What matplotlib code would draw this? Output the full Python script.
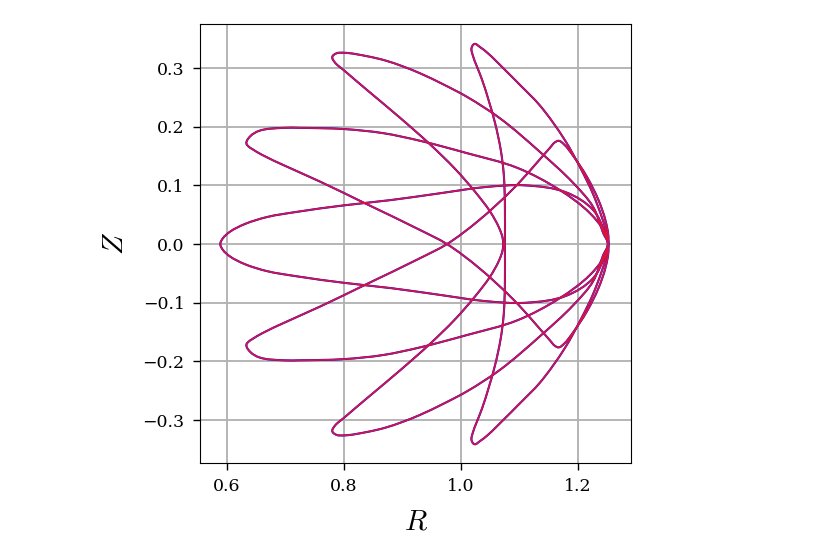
import numpy as np
import matplotlib
matplotlib.use("Agg")
import matplotlib.pyplot as plt
from matplotlib.path import Path
from matplotlib.patches import PathPatch

# ---- data: cross-sections (R, Z) ----
# up-down symmetric sections: upper half only (mirrored about Z=0)
A_R = [1.252, 1.246, 1.226, 1.180, 1.110, 1.040, 0.960, 0.880, 0.800, 0.720, 0.668, 0.630, 0.605, 0.593, 0.5885]
A_Z = [0.000, 0.020, 0.058, 0.088, 0.100, 0.097, 0.086, 0.075, 0.066, 0.055, 0.046, 0.034, 0.021, 0.010, 0.000]

C_R = [1.251, 1.243, 1.226, 1.192, 1.135, 1.067, 1.010, 0.970, 0.930, 0.900, 0.870, 0.840, 0.800, 0.787,
       0.780, 0.784, 0.800, 0.840, 0.896, 0.947, 0.990, 1.025, 1.050, 1.065, 1.071, 1.072]
C_Z = [0.000, 0.019, 0.063, 0.104, 0.157, 0.214, 0.251, 0.272, 0.291, 0.303, 0.313, 0.320, 0.326, 0.325,
       0.319, 0.310, 0.296, 0.262, 0.215, 0.170, 0.128, 0.088, 0.055, 0.028, 0.011, 0.000]

D_R = [1.252, 1.248, 1.240, 1.225, 1.205, 1.177, 1.135, 1.100, 1.075, 1.045, 1.032, 1.023, 1.018, 1.020, 1.027,
       1.036, 1.058, 1.068, 1.073, 1.075, 1.075]
D_Z = [0.000, 0.022, 0.048, 0.087, 0.128, 0.178, 0.236, 0.272, 0.297, 0.326, 0.336, 0.341, 0.334, 0.322, 0.303,
       0.280, 0.207, 0.160, 0.120, 0.070, 0.000]

# non-symmetric section (full loop); its mirror image is also drawn
P_R = [0.633, 0.640, 0.655, 0.696, 0.725, 0.800, 0.867, 0.930, 1.010, 1.096, 1.169, 1.220, 1.246, 1.252,
       1.247, 1.235, 1.215, 1.192, 1.176, 1.167, 1.160, 1.152, 1.090, 1.030, 0.976, 0.930, 0.839, 0.760,
       0.700, 0.660, 0.643, 0.636]
P_Z = [0.172, 0.184, 0.193, 0.198, 0.198, 0.196, 0.189, 0.176, 0.155, 0.130, 0.092, 0.053, 0.019, -0.008,
       -0.040, -0.075, -0.115, -0.150, -0.170, -0.176, -0.173, -0.164, -0.095, -0.040, 0.000, 0.024, 0.068,
       0.106, 0.133, 0.152, 0.162, 0.167]

x_ticks = [0.6, 0.8, 1.0, 1.2]
y_ticks = [-0.3, -0.2, -0.1, 0.0, 0.1, 0.2, 0.3]


def full_from_half(R, Z):
    R = np.asarray(R); Z = np.asarray(Z)
    return np.concatenate([R, R[-2:0:-1]]), np.concatenate([Z, -Z[-2:0:-1]])


def closed_path(R, Z):
    P = np.column_stack([R, Z]).astype(float)
    n = len(P)
    nxt = np.roll(P, -1, axis=0)
    prv = np.roll(P, 1, axis=0)
    dn = np.linalg.norm(nxt - P, axis=1)
    dp = np.roll(dn, 1)
    t = (nxt - P) / dn[:, None] + (P - prv) / dp[:, None]
    t /= np.linalg.norm(t, axis=1)[:, None]
    verts = [P[0]]
    codes = [Path.MOVETO]
    for i in range(n):
        j = (i + 1) % n
        d = dn[i]
        verts += [P[i] + t[i] * d / 3, P[j] - t[j] * d / 3, P[j]]
        codes += [Path.CURVE4] * 3
    return Path(np.array(verts), codes)


sections = [
    full_from_half(A_R, A_Z),
    full_from_half(C_R, C_Z),
    full_from_half(D_R, D_Z),
    (np.asarray(P_R), np.asarray(P_Z)),
    (np.asarray(P_R), -np.asarray(P_Z)),
]

plt.rcParams["mathtext.fontset"] = "cm"
fig = plt.figure(figsize=(8.31, 5.60), dpi=100)
ax = fig.add_axes([200 / 831, 1 - 463 / 560, 431 / 831, 439 / 560])

for color, lw in (("blue", 1.5), ("crimson", 1.2)):
    for R, Z in sections:
        ax.add_patch(PathPatch(closed_path(R, Z), facecolor="none", edgecolor=color, lw=lw))

ax.set_xlim(0.5538, 1.2906)
ax.set_ylim(-0.373, 0.375)
ax.set_xticks(x_ticks)
ax.set_yticks(y_ticks)
ax.set_xticklabels([f"{v:.1f}" for v in x_ticks], family="DejaVu Serif", fontsize=12.5)
ax.set_yticklabels([f"{v:.1f}".replace("-", "\u2212") for v in y_ticks], family="DejaVu Serif", fontsize=12.5)
ax.grid(True, color="#b0b0b0", lw=1.3)
ax.set_axisbelow(True)
ax.tick_params(length=5, width=1, pad=6)
ax.set_xlabel("$R$", fontsize=21, labelpad=9)
ax.set_ylabel("$Z$", fontsize=21, labelpad=10)

fig.savefig("out.png", dpi=100)
